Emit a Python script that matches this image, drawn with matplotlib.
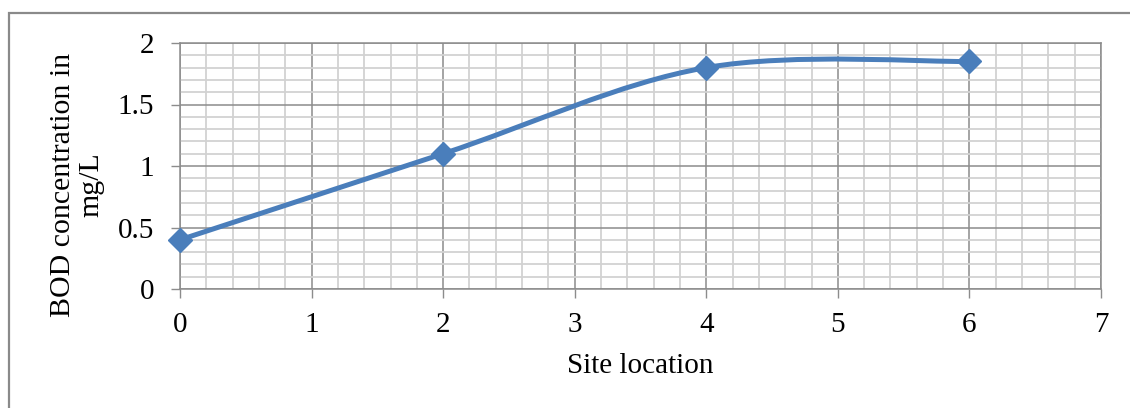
import matplotlib
matplotlib.use("Agg")
import matplotlib.pyplot as plt
from matplotlib.path import Path
from matplotlib.patches import PathPatch, Rectangle
from matplotlib.ticker import MultipleLocator, FixedLocator, FixedFormatter

# BOD measurements along the sampling sites
site = [0, 2, 4, 6]
bod = [0.4, 1.1, 1.8, 1.85]

x_ticks = [0, 1, 2, 3, 4, 5, 6, 7]
y_ticks = [0, 0.5, 1, 1.5, 2]
y_tick_labels = ["0", "0.5", "1", "1.5", "2"]

LINE_BLUE = "#4a7ebb"
MAJOR_GRID = "#8c8c8c"
MINOR_GRID = "#d2d2d2"

plt.rcParams["font.family"] = ["Liberation Serif", "DejaVu Serif"]
plt.rcParams["font.size"] = 21

fig = plt.figure(figsize=(11.3, 4.08), dpi=100)
W, H = 1130, 408
ax = fig.add_axes([180 / W, 1 - 289 / H, (1101 - 180) / W, (289 - 43) / H])

ax.set_xlim(0, 7)
ax.set_ylim(0, 2)
ax.xaxis.set_major_locator(FixedLocator(x_ticks))
ax.yaxis.set_major_locator(FixedLocator(y_ticks))
ax.yaxis.set_major_formatter(FixedFormatter(y_tick_labels))
ax.xaxis.set_minor_locator(MultipleLocator(0.2))
ax.yaxis.set_minor_locator(MultipleLocator(0.1))

ax.set_axisbelow(True)
ax.grid(which="minor", color=MINOR_GRID, linewidth=1.3)
ax.grid(which="major", color=MAJOR_GRID, linewidth=1.1)
ax.tick_params(which="minor", length=0)
ax.tick_params(which="major", direction="out", length=6.5, width=1.0,
               color=MAJOR_GRID)
ax.tick_params(axis="x", which="major", pad=10)
ax.tick_params(axis="y", which="major", pad=12)
for sp in ax.spines.values():
    sp.set_color(MAJOR_GRID)
    sp.set_linewidth(1.1)

# Smoothed curve through the points (cubic Bezier segments, Catmull-Rom style)
pts = list(zip(site, bod))
n = len(pts)
verts = [pts[0]]
codes = [Path.MOVETO]
for i in range(n - 1):
    p0 = pts[i - 1] if i > 0 else pts[i]
    p1 = pts[i]
    p2 = pts[i + 1]
    p3 = pts[i + 2] if i + 2 < n else pts[i + 1]
    c1 = (p1[0] + (p2[0] - p0[0]) / 6, p1[1] + (p2[1] - p0[1]) / 6)
    c2 = (p2[0] - (p3[0] - p1[0]) / 6, p2[1] - (p3[1] - p1[1]) / 6)
    verts += [c1, c2, p2]
    codes += [Path.CURVE4] * 3
curve = PathPatch(Path(verts, codes), facecolor="none", edgecolor=LINE_BLUE,
                  linewidth=3.6, capstyle="round", joinstyle="round", zorder=3)
ax.add_patch(curve)

ax.plot(site, bod, linestyle="none", marker="D", markersize=12,
        color=LINE_BLUE, markeredgecolor=LINE_BLUE, zorder=4, clip_on=False)

ax.set_xlabel("Site location", labelpad=11)
fig.text(77 / W, 1 - 185 / H, "BOD concentration in\nmg/L", rotation=90,
         ha="center", va="center", linespacing=1.1, multialignment="center",
         fontsize=21.5)

# Chart frame
fig.patches.append(Rectangle((9 / W, -0.1), 1.2, 1.1 - 13 / H,
                             transform=fig.transFigure, fill=False,
                             edgecolor="#8a8a8a", linewidth=1.6))

fig.savefig("out.png", dpi=100)
